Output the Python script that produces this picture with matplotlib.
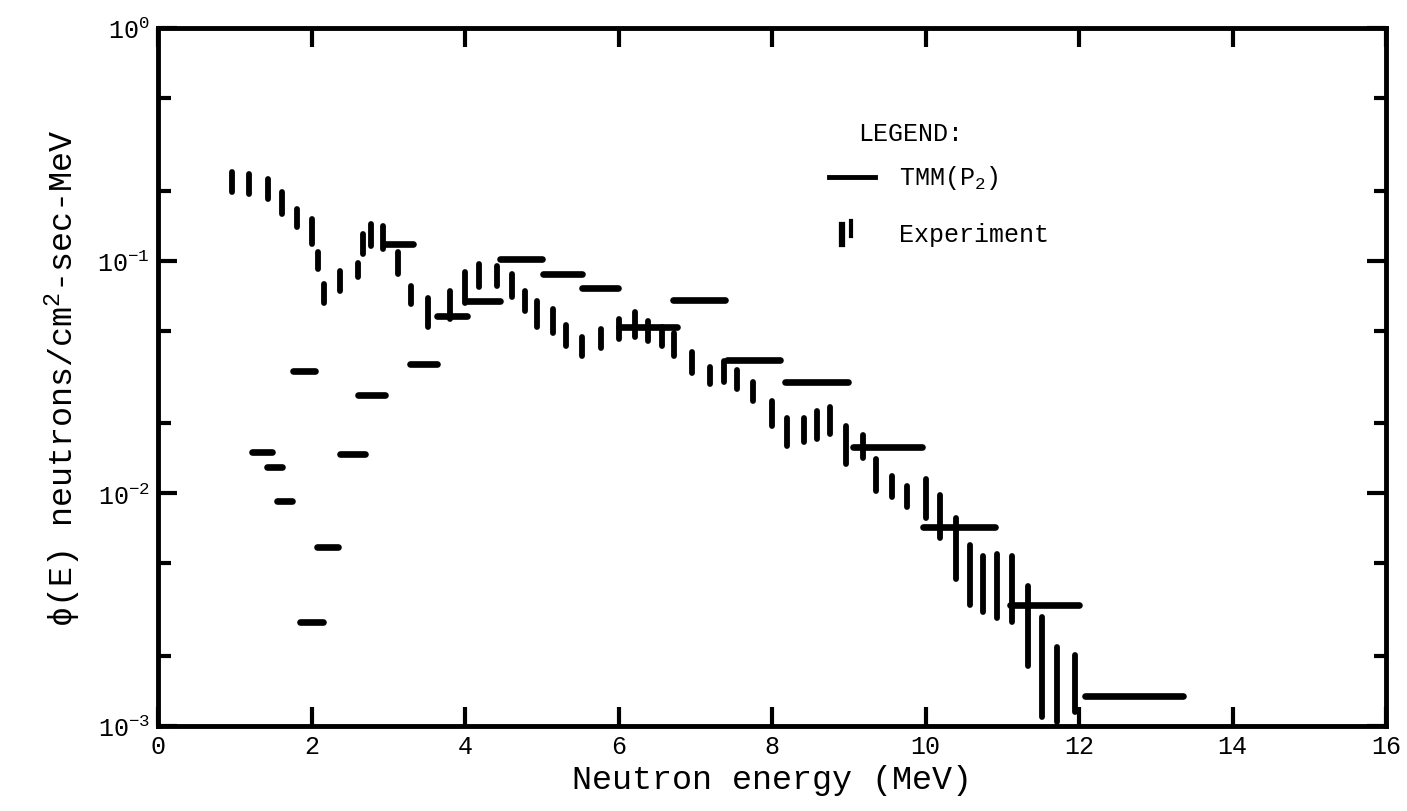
import numpy as np
import matplotlib
matplotlib.use("Agg")
from matplotlib import pyplot as plt

plt.rcParams['font.family'] = ['Liberation Mono', 'DejaVu Sans Mono']
plt.rcParams['mathtext.fontset'] = 'custom'
plt.rcParams['mathtext.rm'] = 'Liberation Mono'
plt.rcParams['mathtext.it'] = 'Liberation Mono'

# TMM(P2) histogram bins: lower edge, upper edge, flux
tmm_lo = [1.22, 1.42, 1.55, 1.76, 1.85, 2.07, 2.37, 2.60, 2.96, 3.28, 3.63, 4.03,
          4.46, 5.02, 5.52, 6.00, 6.71, 7.41, 8.17, 9.06, 9.97, 11.10, 12.08]
tmm_hi = [1.49, 1.62, 1.75, 2.05, 2.15, 2.35, 2.70, 2.96, 3.32, 3.63, 4.03, 4.46,
          5.00, 5.52, 5.99, 6.76, 7.39, 8.10, 8.99, 9.95, 10.90, 12.00, 13.36]
tmm_val = [0.0151, 0.0130, 0.0093, 0.0336, 0.0028, 0.0059, 0.0148, 0.0265, 0.118,
           0.036, 0.058, 0.067, 0.102, 0.088, 0.076, 0.052, 0.068, 0.0375, 0.030,
           0.0158, 0.0072, 0.0033, 0.00135]

# measured spectrum: energy, lower and upper limit of each bar
exp_e = [0.96, 1.19, 1.43, 1.61, 1.81, 2.00, 2.08, 2.16, 2.37, 2.60, 2.67, 2.78,
         2.93, 3.13, 3.30, 3.52, 3.80, 4.00, 4.18, 4.42, 4.61, 4.78, 4.94, 5.15,
         5.32, 5.52, 5.77, 6.00, 6.21, 6.38, 6.57, 6.72, 6.96, 7.19, 7.37, 7.54,
         7.75, 8.00, 8.20, 8.42, 8.59, 8.76, 8.96, 9.19, 9.36, 9.56, 9.76, 10.00,
         10.19, 10.40, 10.58, 10.75, 10.93, 11.13, 11.33, 11.52, 11.71, 11.95]
exp_lo = [0.197, 0.193, 0.184, 0.159, 0.139, 0.118, 0.092, 0.066, 0.074, 0.085,
          0.107, 0.116, 0.112, 0.088, 0.065, 0.052, 0.056, 0.066, 0.077, 0.078,
          0.070, 0.061, 0.052, 0.049, 0.043, 0.039, 0.042, 0.046, 0.047, 0.045,
          0.043, 0.039, 0.033, 0.0295, 0.030, 0.028, 0.025, 0.0195, 0.016, 0.0167,
          0.0171, 0.018, 0.0134, 0.0142, 0.0102, 0.0096, 0.0087, 0.0078, 0.0064,
          0.0043, 0.0033, 0.0031, 0.0029, 0.0028, 0.00181, 0.00109, 0.00104, 0.00115]
exp_hi = [0.240, 0.236, 0.224, 0.197, 0.167, 0.151, 0.109, 0.079, 0.090, 0.098,
          0.130, 0.144, 0.141, 0.109, 0.078, 0.069, 0.074, 0.089, 0.097, 0.095,
          0.088, 0.074, 0.067, 0.062, 0.053, 0.047, 0.051, 0.056, 0.060, 0.055,
          0.052, 0.049, 0.0405, 0.035, 0.037, 0.034, 0.030, 0.025, 0.021, 0.021,
          0.0225, 0.0235, 0.0195, 0.0178, 0.0141, 0.0119, 0.0107, 0.0115, 0.0098,
          0.0078, 0.0060, 0.0054, 0.0055, 0.0054, 0.0040, 0.00294, 0.00218, 0.00201]

fig = plt.figure(figsize=(14.07, 8.12), dpi=100)
ax = fig.add_axes([0.1123, 0.1047, 0.8728, 0.8596])

h = ax.hlines(tmm_val, tmm_lo, tmm_hi, colors='black', linewidth=4.8)
h.set_capstyle('round')
v = ax.vlines(exp_e, exp_lo, exp_hi, colors='black', linewidth=4.2)
v.set_capstyle('round')

ax.set_yscale('log')
ax.set_xlim(0, 16)
ax.set_ylim(1e-3, 1)
ax.set_xticks(np.arange(0, 17, 2))
ax.yaxis.set_minor_locator(matplotlib.ticker.LogLocator(base=10, subs=(2.0, 5.0)))
ax.yaxis.set_minor_formatter(matplotlib.ticker.NullFormatter())
ax.tick_params(which='both', direction='in', top=True, right=True, width=3,
               labelsize=18, pad=6)
ax.tick_params(which='major', length=14)
ax.tick_params(which='minor', length=9)
for s in ax.spines.values():
    s.set_linewidth(3.5)

ax.set_xlabel('Neutron energy (MeV)', fontsize=24, labelpad=4)
ax.set_ylabel(r'$\phi$(E) neutrons/cm$^\mathrm{2}$-sec-MeV', fontsize=24, labelpad=10)

# hand-drawn legend
ax.text(0.570, 0.850, 'LEGEND:', transform=ax.transAxes, fontsize=18, va='center')
ax.plot([0.546, 0.584], [0.787, 0.787], transform=ax.transAxes, color='black', lw=3.5)
ax.text(0.603, 0.787, r'TMM(P$_\mathrm{2}$)', transform=ax.transAxes, fontsize=18, va='center')
ax.plot([0.557, 0.557], [0.690, 0.718], transform=ax.transAxes, color='black', lw=4.5)
ax.plot([0.564, 0.564], [0.702, 0.724], transform=ax.transAxes, color='black', lw=3)
ax.text(0.603, 0.705, 'Experiment', transform=ax.transAxes, fontsize=18, va='center')

fig.savefig('out.png', dpi=100)
